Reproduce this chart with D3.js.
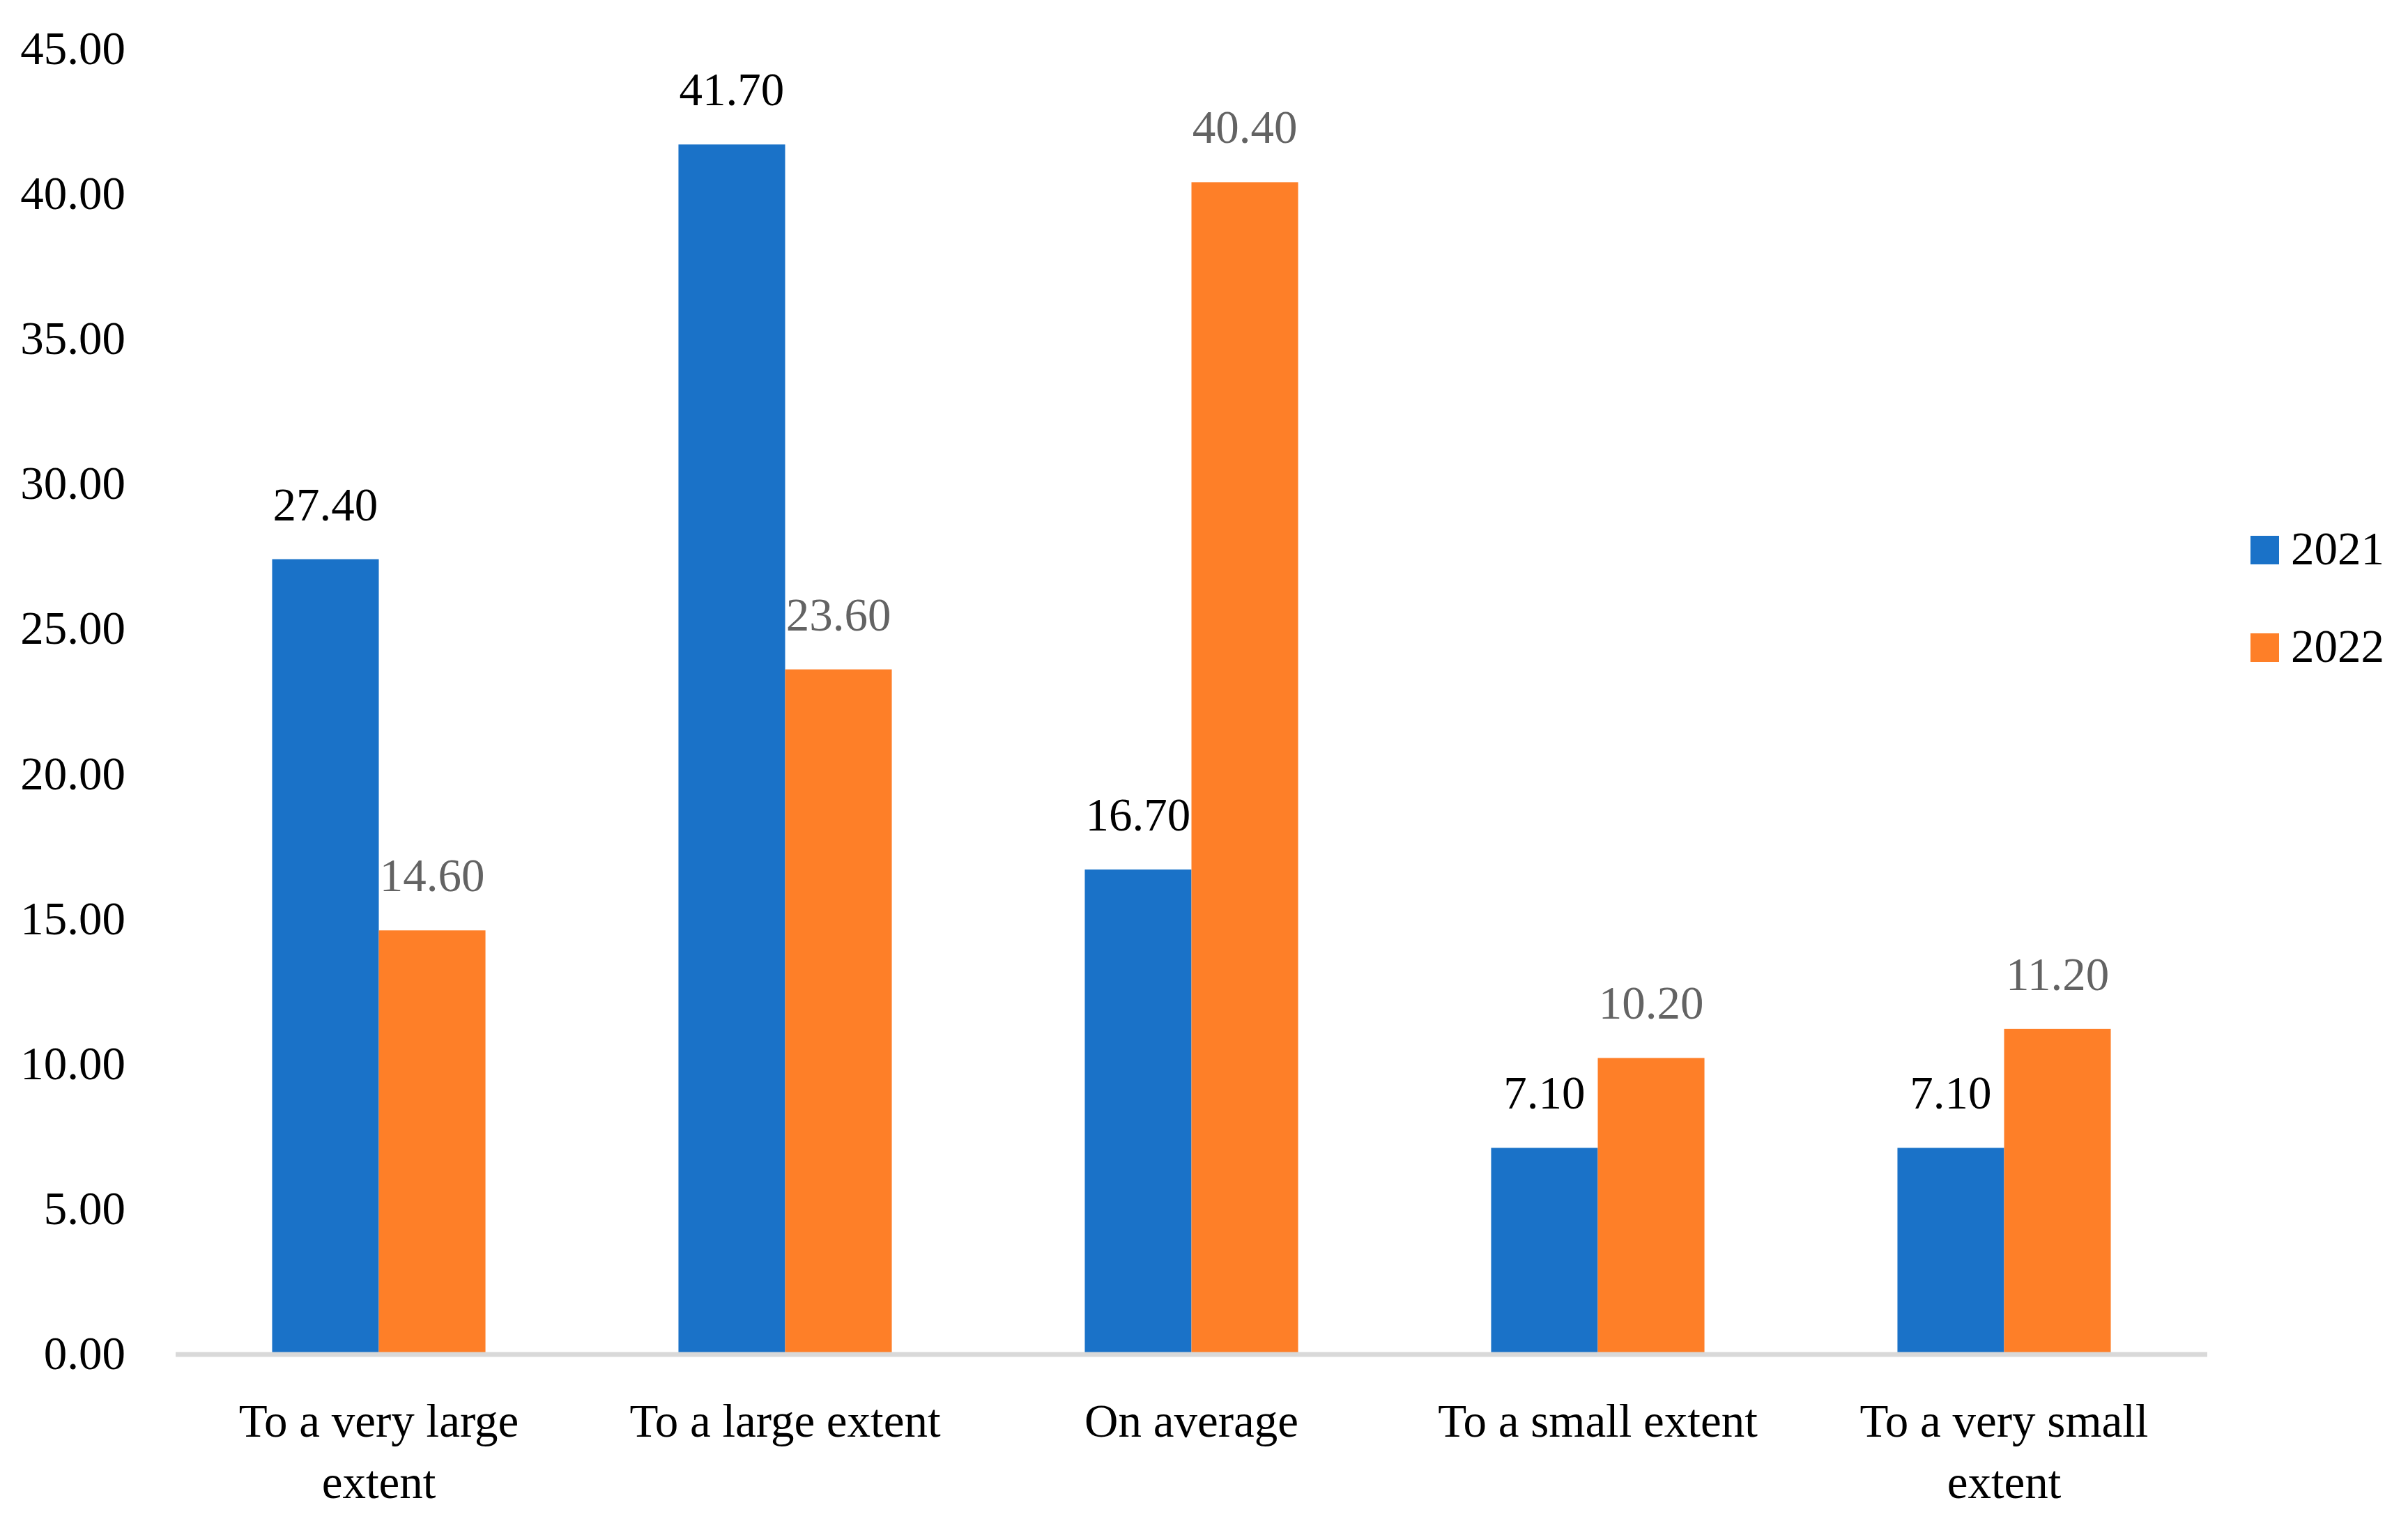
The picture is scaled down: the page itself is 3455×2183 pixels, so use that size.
<!DOCTYPE html>
<html>
<head>
<meta charset="utf-8">
<script src="https://cdn.jsdelivr.net/npm/d3@7"></script>
<style>
  body { margin: 0; background: #ffffff; }
  svg { display: block; font-family: "Liberation Serif", "DejaVu Serif", serif; }
</style>
</head>
<body>
<svg class="chart" width="3455" height="2183"></svg>
<script>
// Chart data
let categories = ["To a very large extent", "To a large extent", "On average", "To a small extent", "To a very small extent"];
let categoryLines = [["To a very large", "extent"], ["To a large extent"], ["On average"], ["To a small extent"], ["To a very small", "extent"]];
let seriesNames = ["2021", "2022"];
let values2021 = [27.4, 41.7, 16.7, 7.1, 7.1];
let values2022 = [14.6, 23.6, 40.4, 10.2, 11.2];
let yTicks = [0, 5, 10, 15, 20, 25, 30, 35, 40, 45];

function drawChart(svgClass) {
  let svg = d3.select(svgClass);

  let left = 252;
  let right = 3167;
  let top = 70;
  let bottom = 1943;
  let fontSize = 67;
  let serif = "Liberation Serif";

  let colors = { "2021": "#1a72c8", "2022": "#fe7f28" };
  let labelColors = { "2021": "#000000", "2022": "#636363" };

  let data = categories.map((c, i) => ({
    category: c,
    lines: categoryLines[i],
    values: [
      { series: "2021", value: values2021[i] },
      { series: "2022", value: values2022[i] }
    ]
  }));

  // Scales
  let xScale = d3.scaleBand()
    .domain(categories)
    .range([left, right])
    .paddingInner(0.475)
    .paddingOuter(0.2375);

  let xInner = d3.scaleBand()
    .domain(seriesNames)
    .range([0, xScale.bandwidth()]);

  let yScale = d3.scaleLinear()
    .domain([0, 45])
    .range([bottom, top]);

  // Y axis labels
  svg.append("g")
    .attr("transform", "translate(" + left + ",0)")
    .call(d3.axisLeft(yScale).tickValues(yTicks).tickSize(0).tickPadding(72).tickFormat(d3.format(".2f")))
    .call(g => g.select(".domain").remove())
    .attr("font-family", serif)
    .attr("font-size", fontSize)
    .selectAll("text")
    .attr("fill", "#000");

  // Bars
  let groups = svg.selectAll(".group")
    .data(data)
    .enter()
    .append("g")
    .attr("class", "group")
    .attr("transform", d => "translate(" + xScale(d.category) + ",0)");

  groups.selectAll("rect")
    .data(d => d.values)
    .enter()
    .append("rect")
    .attr("x", d => xInner(d.series))
    .attr("y", d => yScale(d.value))
    .attr("width", xInner.bandwidth())
    .attr("height", d => yScale(0) - yScale(d.value))
    .attr("fill", d => colors[d.series]);

  // Value labels
  groups.selectAll(".val")
    .data(d => d.values)
    .enter()
    .append("text")
    .attr("class", "val")
    .attr("x", d => xInner(d.series) + xInner.bandwidth() / 2)
    .attr("y", d => yScale(d.value) - 56)
    .attr("text-anchor", "middle")
    .attr("font-size", fontSize)
    .attr("fill", d => labelColors[d.series])
    .text(d => d3.format(".2f")(d.value));

  // Baseline
  svg.append("line")
    .attr("x1", left)
    .attr("x2", right)
    .attr("y1", yScale(0) + 1)
    .attr("y2", yScale(0) + 1)
    .attr("stroke", "#d9d9d9")
    .attr("stroke-width", 7);

  // X axis labels
  let xAxis = svg.append("g")
    .attr("transform", "translate(0," + yScale(0) + ")")
    .call(d3.axisBottom(xScale).tickSize(0).tickFormat(""))
    .call(g => g.select(".domain").remove())
    .attr("font-family", serif)
    .attr("font-size", fontSize);

  xAxis.selectAll(".tick")
    .data(data)
    .append("text")
    .attr("text-anchor", "middle")
    .attr("fill", "#000")
    .selectAll("tspan")
    .data(d => d.lines)
    .enter()
    .append("tspan")
    .attr("x", 0)
    .attr("y", (d, i) => 119 + i * 88)
    .text(d => d);

  // Legend
  let legend = svg.selectAll(".legend")
    .data(seriesNames)
    .enter()
    .append("g")
    .attr("class", "legend")
    .attr("transform", (d, i) => "translate(3229," + (769 + i * 140) + ")");

  legend.append("rect")
    .attr("width", 41)
    .attr("height", 41)
    .attr("fill", d => colors[d]);

  legend.append("text")
    .attr("x", 58)
    .attr("y", 41)
    .attr("font-size", fontSize)
    .attr("fill", "#000")
    .text(d => d);
}

drawChart(".chart");
</script>
</body>
</html>
